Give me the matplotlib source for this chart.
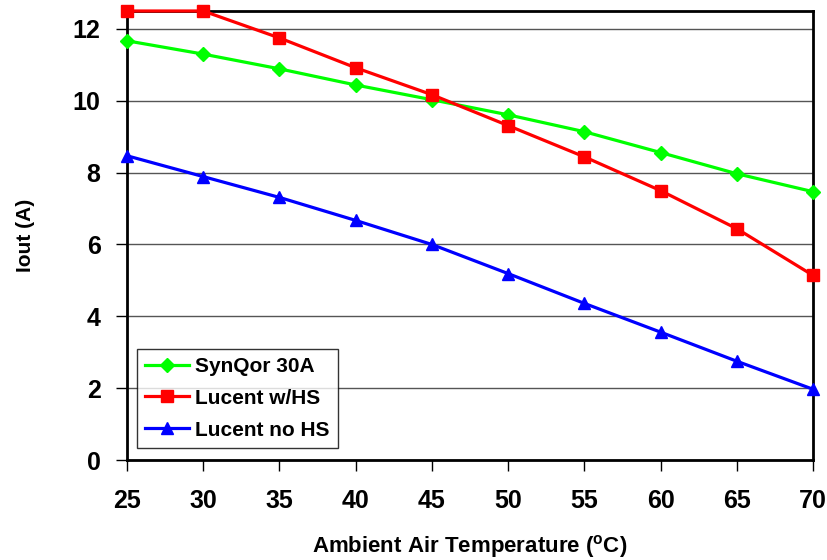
import matplotlib.pyplot as plt

# Data
temps = [25, 30, 35, 40, 45, 50, 55, 60, 65, 70]
synqor_30a = [11.67, 11.3, 10.89, 10.44, 10.03, 9.61, 9.14, 8.56, 7.97, 7.47]
lucent_hs = [12.5, 12.5, 11.75, 10.92, 10.17, 9.31, 8.44, 7.5, 6.44, 5.14]
lucent_no_hs = [8.47, 7.89, 7.31, 6.67, 6.0, 5.19, 4.36, 3.56, 2.75, 1.97]

plt.rcParams['font.family'] = ['Liberation Sans', 'DejaVu Sans']
plt.rcParams['font.weight'] = 'bold'

fig = plt.figure(figsize=(8.28, 5.6), dpi=100)
ax = fig.add_axes([127 / 828, 100 / 560, 686 / 828, 449 / 560])

ax.plot(temps, synqor_30a, color='#00ff00', marker='D', markersize=7, lw=2.3,
        label='SynQor 30A', clip_on=False, zorder=3)
ax.plot(temps, lucent_hs, color='#ff0000', marker='s', markersize=9, lw=2.3,
        label='Lucent w/HS', clip_on=False, zorder=3)
ax.plot(temps, lucent_no_hs, color='#0000ff', marker='^', markersize=9, lw=2.3,
        label='Lucent no HS', clip_on=False, zorder=3)

ax.set_xlim(25, 70)
ax.set_ylim(0, 12.5)
ax.set_xticks(temps)
ax.set_yticks(range(0, 13, 2))
ax.grid(axis='y', color='#555555', lw=1.0)
ax.set_axisbelow(True)

for side in ['left', 'right', 'bottom', 'top']:
    ax.spines[side].set_linewidth(2.0)
    ax.spines[side].set_color('black')

ax.tick_params(axis='both', direction='out', length=8, width=1.0,
               labelsize=18)
ax.tick_params(axis='x', pad=13)
ax.tick_params(axis='y', pad=11)
for lab in ax.get_xticklabels() + ax.get_yticklabels():
    lab.set_fontweight('bold')

ax.set_ylabel('Iout (A)', fontsize=15, fontweight='bold', labelpad=27)
ax.set_xlabel('Ambient Air Temperature ($^{\\mathregular{o}}$C)', fontsize=16,
              fontweight='bold', labelpad=14)

leg = ax.legend(loc='lower left', bbox_to_anchor=(0.0146, 0.0267), fontsize=15,
                frameon=True, fancybox=False, edgecolor='black',
                borderaxespad=0, handlelength=2.1, handletextpad=0.3,
                borderpad=0.4, labelspacing=0.62)
leg.get_frame().set_linewidth(1.0)
for t in leg.get_texts():
    t.set_fontweight('bold')

plt.savefig('out.png', dpi=100)
